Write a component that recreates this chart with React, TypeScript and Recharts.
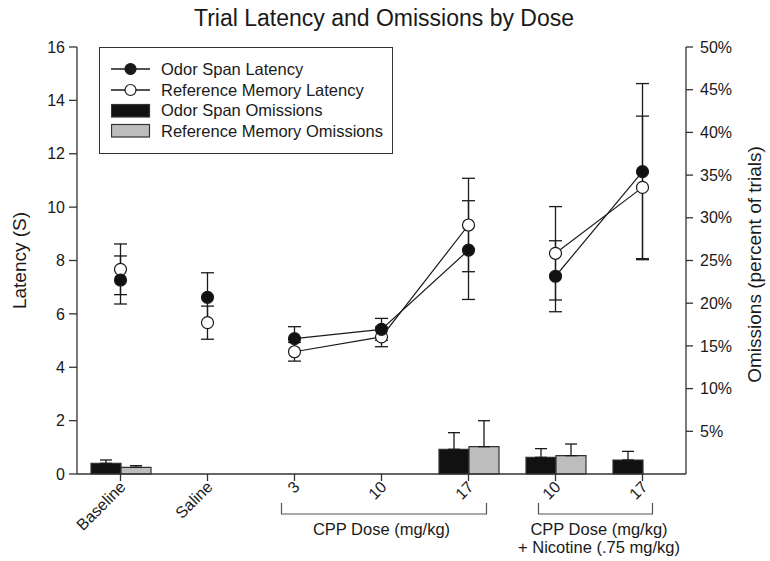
import * as React from "react";
import {
  Bar,
  ComposedChart,
  ErrorBar,
  Line,
  XAxis,
  YAxis,
} from "recharts";

// dose groups along the x axis
const doseIds = ["Baseline", "Saline", "3", "10", "17", "10n", "17n"];
const doseLabels = ["Baseline", "Saline", "3", "10", "17", "10", "17"];
const doseGroup = ["single", "single", "cpp", "cpp", "cpp", "nic", "nic"];

// latency (s), mean and SEM
const odorLatency = [7.27, 6.62, 5.07, 5.42, 8.39, 7.41, 11.33];
const odorLatencyErr = [0.9, 0.92, 0.45, 0.41, 1.85, 1.33, 3.3];
const refLatency = [7.67, 5.67, 4.58, 5.14, 9.33, 8.27, 10.74];
const refLatencyErr = [0.95, 0.62, 0.35, 0.37, 1.75, 1.75, 2.67];

// omissions (% of trials), mean and SEM
const odorOmissions = [1.25, null, null, null, 2.89, 1.95, 1.64];
const odorOmissionsErr = [0.39, null, null, null, 1.95, 1.02, 1.01];
const refOmissions = [0.78, null, null, null, 3.2, 2.15, null];
const refOmissionsErr = [0.2, null, null, null, 3.04, 1.36, null];

const latencyTicks = [0, 2, 4, 6, 8, 10, 12, 14, 16];
const omissionTicks = [5, 10, 15, 20, 25, 30, 35, 40, 45, 50];

const W = 770;
const H = 561;
const PLOT_LEFT = 77;
const PLOT_RIGHT = 686;
const PLOT_TOP = 47;
const PLOT_BOTTOM = 474;
const BAND = (PLOT_RIGHT - PLOT_LEFT) / doseIds.length;

const font = "'Liberation Sans', Arial, sans-serif";
const ink = "#1a1a1a";

const data = doseIds.map((id, i) => {
  const row: any = { id };
  for (const g of ["single", "cpp", "nic"]) {
    const on = doseGroup[i] === g;
    row["odor_" + g] = on ? odorLatency[i] : null;
    row["odorErr_" + g] = on ? odorLatencyErr[i] : null;
    row["ref_" + g] = on ? refLatency[i] : null;
    row["refErr_" + g] = on ? refLatencyErr[i] : null;
  }
  row.odorOmit = odorOmissions[i];
  row.odorOmitErr = odorOmissionsErr[i] == null ? null : [0, odorOmissionsErr[i]];
  row.refOmit = refOmissions[i];
  row.refOmitErr = refOmissionsErr[i] == null ? null : [0, refOmissionsErr[i]];
  return row;
});

function DoseTick(props: any) {
  const { x, y, payload } = props;
  const i = payload.index;
  const ax = x + 6;
  const ay = y + 5;
  return (
    <g>
      <text
        x={ax}
        y={ay}
        textAnchor="end"
        fontSize={16}
        fontFamily={font}
        fill={ink}
        transform={`rotate(-45, ${ax}, ${ay})`}
      >
        {doseLabels[i]}
      </text>
      {i === 3 && (
        <g>
          <path
            d={`M${x - BAND - 13},${y + 20} V${y + 31} H${x + BAND + 18} V${y + 20}`}
            fill="none"
            stroke="#555"
            strokeWidth={1.2}
          />
          <text x={x} y={y + 52} textAnchor="middle" fontSize={16.5} fontFamily={font} fill={ink}>
            CPP Dose (mg/kg)
          </text>
        </g>
      )}
      {i === 5 && (
        <g>
          <path
            d={`M${x - 17},${y + 20} V${y + 31} H${x + BAND + 10} V${y + 20}`}
            fill="none"
            stroke="#555"
            strokeWidth={1.2}
          />
          <text x={x + BAND / 2} y={y + 52} textAnchor="middle" fontSize={16.5} fontFamily={font} fill={ink}>
            CPP Dose (mg/kg)
          </text>
          <text x={x + BAND / 2} y={y + 70} textAnchor="middle" fontSize={16.5} fontFamily={font} fill={ink}>
            + Nicotine (.75 mg/kg)
          </text>
        </g>
      )}
    </g>
  );
}

function LegendBox() {
  const rows = [
    { label: "Odor Span Latency", kind: "line", fill: ink },
    { label: "Reference Memory Latency", kind: "line", fill: "#fff" },
    { label: "Odor Span Omissions", kind: "bar", fill: "#111" },
    { label: "Reference Memory Omissions", kind: "bar", fill: "#bdbdbd" },
  ];
  return (
    <div
      style={{
        position: "absolute",
        left: 99,
        top: PLOT_TOP,
        boxSizing: "border-box",
        width: 294,
        height: 107,
        border: "1.5px solid #333",
        background: "#fff",
        padding: "11px 0 0 11px",
        fontFamily: font,
        fontSize: 16.5,
        color: ink,
      }}
    >
      {rows.map((r) => (
        <div key={r.label} style={{ display: "flex", alignItems: "center", height: 20.7 }}>
          <svg width={40} height={16} style={{ marginRight: 10 }}>
            {r.kind === "line" ? (
              <g>
                <line x1={0} y1={8} x2={39} y2={8} stroke={ink} strokeWidth={1.3} />
                <circle cx={19.5} cy={8} r={5.5} fill={r.fill} stroke={ink} strokeWidth={1.2} />
              </g>
            ) : (
              <rect x={0.5} y={1.5} width={38} height={12.5} fill={r.fill} stroke="#333" strokeWidth={1.2} />
            )}
          </svg>
          <span>{r.label}</span>
        </div>
      ))}
    </div>
  );
}

function latencySeries(prefix: string, group: string, filled: boolean) {
  const key = `${prefix}_${group}`;
  return (
    <Line
      key={key}
      yAxisId="left"
      dataKey={key}
      type="linear"
      stroke={group === "single" ? "none" : ink}
      strokeWidth={1.2}
      dot={{ r: 6, fill: filled ? "#111" : "#fff", stroke: ink, strokeWidth: 1.2 }}
      activeDot={false}
      connectNulls={false}
      isAnimationActive={false}
    >
      <ErrorBar dataKey={`${prefix}Err_${group}`} width={6.5} stroke={ink} strokeWidth={1.3} />
    </Line>
  );
}

export default function App() {
  return (
    <div style={{ position: "absolute", left: 0, top: 0, width: W, height: H, background: "#fff" }}>
      <div
        style={{
          position: "absolute",
          top: 7,
          left: 0,
          width: 768,
          textAlign: "center",
          fontFamily: font,
          fontSize: 23,
          lineHeight: "23px",
          color: ink,
        }}
      >
        Trial Latency and Omissions by Dose
      </div>
      <ComposedChart
        width={W}
        height={H}
        data={data}
        margin={{ top: PLOT_TOP, right: 0, bottom: 0, left: 0 }}
        barSize={30}
        barGap={0}
      >
        <XAxis
          dataKey="id"
          height={H - PLOT_BOTTOM}
          interval={0}
          tick={<DoseTick />}
          tickSize={7}
          stroke="#333"
          axisLine={{ stroke: "#333", strokeWidth: 1.3 }}
          tickLine={{ stroke: "#333", strokeWidth: 1.3 }}
        />
        <YAxis
          yAxisId="left"
          width={PLOT_LEFT}
          domain={[0, 16]}
          ticks={latencyTicks}
          tickSize={8}
          tickMargin={4}
          tick={{ fontSize: 16, fontFamily: font, fill: ink }}
          axisLine={{ stroke: "#333", strokeWidth: 1.3 }}
          tickLine={{ stroke: "#333", strokeWidth: 1.3 }}
          label={{
            content: ({ viewBox }: any) => {
              const cx = viewBox.x + 19;
              const cy = viewBox.y + viewBox.height / 2;
              return (
                <text
                  x={cx}
                  y={cy}
                  textAnchor="middle"
                  dominantBaseline="central"
                  fontSize={19}
                  fontFamily={font}
                  fill={ink}
                  transform={`rotate(-90, ${cx}, ${cy})`}
                >
                  Latency (S)
                </text>
              );
            },
          }}
        />
        <YAxis
          yAxisId="right"
          orientation="right"
          width={W - PLOT_RIGHT}
          domain={[0, 50]}
          ticks={omissionTicks}
          tickFormatter={(v: number) => `${v}%`}
          tickSize={7}
          tickMargin={7}
          tick={{ fontSize: 16, fontFamily: font, fill: ink, textAnchor: "start" }}
          axisLine={{ stroke: "#333", strokeWidth: 1.3 }}
          tickLine={{ stroke: "#333", strokeWidth: 1.3 }}
          label={{
            content: ({ viewBox }: any) => {
              const cx = viewBox.x + 68;
              const cy = viewBox.y + viewBox.height / 2 + 4;
              return (
                <text
                  x={cx}
                  y={cy}
                  textAnchor="middle"
                  dominantBaseline="central"
                  fontSize={19}
                  fontFamily={font}
                  fill={ink}
                  transform={`rotate(-90, ${cx}, ${cy})`}
                >
                  Omissions (percent of trials)
                </text>
              );
            },
          }}
        />
        <Bar yAxisId="right" dataKey="odorOmit" fill="#111" stroke="#333" strokeWidth={1.2} isAnimationActive={false}>
          <ErrorBar dataKey="odorOmitErr" width={6} stroke={ink} strokeWidth={1.3} />
        </Bar>
        <Bar yAxisId="right" dataKey="refOmit" fill="#bdbdbd" stroke="#333" strokeWidth={1.2} isAnimationActive={false}>
          <ErrorBar dataKey="refOmitErr" width={6} stroke={ink} strokeWidth={1.3} />
        </Bar>
        {latencySeries("ref", "single", false)}
        {latencySeries("ref", "cpp", false)}
        {latencySeries("ref", "nic", false)}
        {latencySeries("odor", "single", true)}
        {latencySeries("odor", "cpp", true)}
        {latencySeries("odor", "nic", true)}
      </ComposedChart>
      <LegendBox />
    </div>
  );
}
